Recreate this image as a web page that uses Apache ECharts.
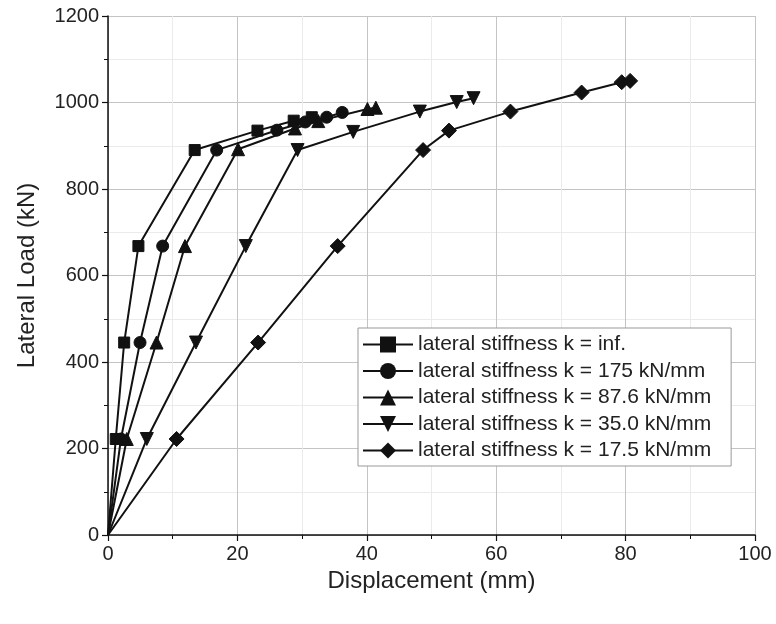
<!DOCTYPE html>
<html><head><meta charset="utf-8">
<script src="https://cdn.jsdelivr.net/npm/echarts@6/dist/echarts.min.js"></script>
<style>html,body{margin:0;padding:0;background:#fff}#c{width:776px;height:624px}</style>
</head><body><div id="c"></div>
<script>
const seriesNames = [
  'lateral stiffness k = inf.',
  'lateral stiffness k = 175 kN/mm',
  'lateral stiffness k = 87.6 kN/mm',
  'lateral stiffness k = 35.0 kN/mm',
  'lateral stiffness k = 17.5 kN/mm'
];
const kInf  = [[0,0],[1.2,222],[2.5,445],[4.7,668],[13.4,890],[23.1,935],[28.7,958],[31.5,966]];
const k175  = [[0,0],[2.0,222],[4.95,445],[8.45,668],[16.8,890],[26.1,936],[30.5,955],[33.8,966],[36.2,977]];
const k87   = [[0,0],[2.9,222],[7.5,445],[11.9,668],[20.1,892],[28.9,940],[32.5,957],[40.1,985],[41.4,988]];
const k35   = [[0,0],[6.0,222],[13.6,445],[21.3,668],[29.3,890],[37.9,932],[48.2,979],[53.9,1001],[56.5,1010]];
const k17   = [[0,0],[10.6,222],[23.2,445],[35.5,668],[48.7,890],[52.7,935],[62.2,979],[73.2,1023],[79.4,1047],[80.7,1050]];
const xTicks = [0,20,40,60,80,100];
const yTicks = [0,200,400,600,800,1000,1200];

const dataSets = [kInf, k175, k87, k35, k17];
const symbols = ['rect','circle','triangle','triangle','diamond'];
const rotates = [0,0,0,180,0];
const sizes = [11,12,13,13,15];

const chart = echarts.init(document.getElementById('c'));
const font = 'Liberation Sans, Arial, sans-serif';
const axisCommon = {
  axisLine:{show:true,lineStyle:{color:'#111',width:1.5}},
  axisTick:{show:true,length:6,lineStyle:{color:'#111',width:1.2}},
  minorTick:{show:true,splitNumber:2,length:4,lineStyle:{color:'#111'}},
  axisLabel:{fontSize:20,color:'#222',fontFamily:font,margin:9,formatter:v=>String(v)},
  splitLine:{show:true,lineStyle:{color:'#c4c4c4',width:1}},
  minorSplitLine:{show:true,lineStyle:{color:'#ebebeb',width:1}},
  nameTextStyle:{fontSize:24,color:'#222',fontFamily:font}
};
chart.setOption({
  animation:false,
  backgroundColor:'#fff',
  grid:{left:108,right:21,top:16,bottom:89},
  xAxis:Object.assign({type:'value',min:xTicks[0],max:xTicks[xTicks.length-1],interval:xTicks[1]-xTicks[0],
    name:'Displacement (mm)',nameLocation:'middle',nameGap:30},axisCommon),
  yAxis:Object.assign({type:'value',min:yTicks[0],max:yTicks[yTicks.length-1],interval:yTicks[1]-yTicks[0],
    name:'Lateral Load (kN)',nameLocation:'middle',nameGap:69},axisCommon),
  legend:{orient:'vertical',left:358,top:328,
    padding:[6,20,5,4],itemGap:5.5,itemWidth:50,itemHeight:20,
    borderColor:'#999',borderWidth:1,backgroundColor:'#fff',
    textStyle:{fontSize:21,color:'#222',fontFamily:font},
    data:seriesNames
  },
  series:dataSets.map((d,i)=>({
    name:seriesNames[i],type:'line',
    data:d.map(p=>(p[0]===0&&p[1]===0)?{value:p,symbol:'none'}:p),
    symbol:symbols[i],symbolSize:sizes[i],symbolRotate:rotates[i],
    showAllSymbol:true,
    lineStyle:{color:'#111',width:2},
    itemStyle:{color:'#111',borderColor:'#111'},
    color:'#111'
  }))
});
</script></body></html>
